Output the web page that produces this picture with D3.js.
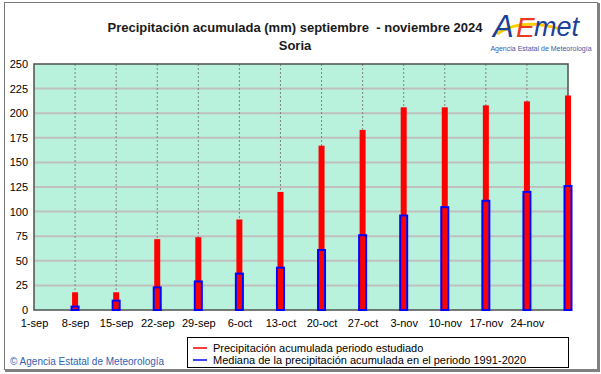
<!DOCTYPE html>
<html>
<head>
<meta charset="utf-8">
<script src="https://cdn.jsdelivr.net/npm/d3@7"></script>
<style>
  body { margin: 0; background: #fff; }
  text { font-family: "Liberation Sans", Arial, sans-serif; }
</style>
</head>
<body>
<div id="chart"></div>
<script>
// Chart data
var weeks = ["1-sep", "8-sep", "15-sep", "22-sep", "29-sep", "6-oct", "13-oct",
  "20-oct", "27-oct", "3-nov", "10-nov", "17-nov", "24-nov", "1-dec"];
var barWeeks = weeks.slice(1);
var precipStudied = [18, 18, 72, 74, 92, 120, 167, 183, 206, 206, 208, 212, 218];
var median9120 = [3.5, 9.5, 23, 29, 37, 43, 61, 76, 96, 104.5, 111, 120, 126];
var yTicks = [0, 25, 50, 75, 100, 125, 150, 175, 200, 225, 250];
var legendLabels = ["Precipitación acumulada periodo estudiado",
  "Mediana de la precipitación acumulada en el periodo 1991-2020"];

// SVG area
var svgWidth = 601;
var svgHeight = 374;
var plot = { left: 34, right: 568, top: 64, bottom: 310 };

var svg = d3.select("#chart")
  .append("svg")
  .attr("width", svgWidth)
  .attr("height", svgHeight);

// outer frame
svg.append("rect")
  .attr("x", 4.5).attr("y", 2.5)
  .attr("width", 593).attr("height", 367)
  .attr("fill", "#fff")
  .attr("stroke", "#7a7a7a")
  .attr("stroke-width", 1);
svg.append("path")
  .attr("d", "M5,370.5 H598.5 V3")
  .attr("fill", "none")
  .attr("stroke", "#808080")
  .attr("stroke-width", 3);

// scales
var xScale = d3.scalePoint()
  .domain(weeks)
  .range([plot.left, plot.right]);

var yScale = d3.scaleLinear()
  .domain([0, 250])
  .range([plot.bottom, plot.top]);

// plot background
svg.append("rect")
  .attr("x", plot.left).attr("y", plot.top)
  .attr("width", plot.right - plot.left)
  .attr("height", plot.bottom - plot.top)
  .attr("fill", "#b8f2dc");

// horizontal grid
svg.append("g")
  .selectAll("line")
  .data(yTicks.slice(1, -1))
  .enter()
  .append("line")
  .attr("x1", plot.left).attr("x2", plot.right)
  .attr("y1", d => yScale(d)).attr("y2", d => yScale(d))
  .attr("stroke", "#c0c0c0")
  .attr("stroke-width", 2);

// vertical dashed grid
svg.append("g")
  .selectAll("line")
  .data(weeks.slice(1, -1))
  .enter()
  .append("line")
  .attr("x1", d => xScale(d)).attr("x2", d => xScale(d))
  .attr("y1", plot.top).attr("y2", plot.bottom)
  .attr("stroke", "#808080")
  .attr("stroke-width", 1)
  .attr("stroke-dasharray", "2,2");

// plot border
svg.append("rect")
  .attr("x", plot.left).attr("y", plot.top)
  .attr("width", plot.right - plot.left)
  .attr("height", plot.bottom - plot.top)
  .attr("fill", "none")
  .attr("stroke", "#505050")
  .attr("stroke-width", 1.5);

// red bars (studied period)
svg.append("g")
  .selectAll("rect")
  .data(precipStudied)
  .enter()
  .append("rect")
  .attr("x", (d, i) => xScale(barWeeks[i]) - 3)
  .attr("y", d => yScale(d))
  .attr("width", 6)
  .attr("height", d => yScale(0) - yScale(d))
  .attr("fill", "#ff0000");

// blue outline bars (median)
svg.append("g")
  .selectAll("rect")
  .data(median9120)
  .enter()
  .append("rect")
  .attr("x", (d, i) => xScale(barWeeks[i]) - 3.5)
  .attr("y", d => yScale(d))
  .attr("width", 7)
  .attr("height", d => yScale(0) - yScale(d))
  .attr("fill", "none")
  .attr("stroke", "#0000ff")
  .attr("stroke-width", 2);

// axes
var leftAxis = d3.axisLeft(yScale).tickValues(yTicks).tickSize(0).tickPadding(6);
var bottomAxis = d3.axisBottom(xScale)
  .tickSize(0).tickPadding(9)
  .tickFormat(d => d === "1-dec" ? "" : d);

var gy = svg.append("g")
  .attr("transform", `translate(${plot.left}, 0)`)
  .call(leftAxis);
var gx = svg.append("g")
  .attr("transform", `translate(0, ${plot.bottom})`)
  .call(bottomAxis);
[gx, gy].forEach(function(g) {
  g.select(".domain").remove();
  g.selectAll("text")
    .attr("font-size", "11px")
    .attr("fill", "#000")
    .style("font-family", "'Liberation Sans', Arial, sans-serif");
});

// title
svg.append("text")
  .attr("x", 295).attr("y", 32)
  .attr("text-anchor", "middle")
  .attr("font-size", "13px")
  .attr("font-weight", "bold")
  .attr("fill", "#1a1a1a")
  .attr("xml:space", "preserve")
  .text("Precipitación acumulada (mm) septiembre  - noviembre 2024");
svg.append("text")
  .attr("x", 295).attr("y", 50)
  .attr("text-anchor", "middle")
  .attr("font-size", "13px")
  .attr("font-weight", "bold")
  .attr("fill", "#1a1a1a")
  .text("Soria");

// logo
var logo = svg.append("g");
logo.append("path")
  .attr("d", "M497,34 C515,21 540,23 560,29")
  .attr("fill", "none")
  .attr("stroke", "#ffcc00")
  .attr("stroke-width", 3);
logo.append("text")
  .attr("x", 493).attr("y", 37)
  .attr("font-size", "31px")
  .attr("font-style", "italic")
  .attr("fill", "#1c3f9a")
  .text("A");
logo.append("text")
  .attr("x", 516).attr("y", 37)
  .attr("font-size", "28px")
  .attr("font-style", "italic")
  .attr("fill", "#e83a1e")
  .text("E");
logo.append("text")
  .attr("x", 534).attr("y", 36)
  .attr("font-size", "27px")
  .attr("font-style", "italic")
  .attr("fill", "#1c3f9a")
  .text("met");
logo.append("text")
  .attr("x", 541).attr("y", 51)
  .attr("text-anchor", "middle")
  .attr("font-size", "7px")
  .attr("fill", "#3a5aa8")
  .text("Agencia Estatal de Meteorología");

// copyright
svg.append("text")
  .attr("x", 10).attr("y", 365)
  .attr("font-size", "10px")
  .attr("fill", "#3060b0")
  .text("© Agencia Estatal de Meteorología");

// legend
var legend = svg.append("g");
legend.append("rect")
  .attr("x", 187.5).attr("y", 337.5)
  .attr("width", 381).attr("height", 30)
  .attr("fill", "#fff")
  .attr("stroke", "#000")
  .attr("stroke-width", 1);
var legendColors = ["#ff0000", "#0000ff"];
legendLabels.forEach(function(label, i) {
  var y = 348 + i * 12;
  legend.append("line")
    .attr("x1", 193).attr("x2", 207)
    .attr("y1", y).attr("y2", y)
    .attr("stroke", legendColors[i])
    .attr("stroke-width", 1.5);
  legend.append("text")
    .attr("x", 213).attr("y", y + 4)
    .attr("font-size", "11px")
    .attr("fill", "#000")
    .text(label);
});
</script>
</body>
</html>
